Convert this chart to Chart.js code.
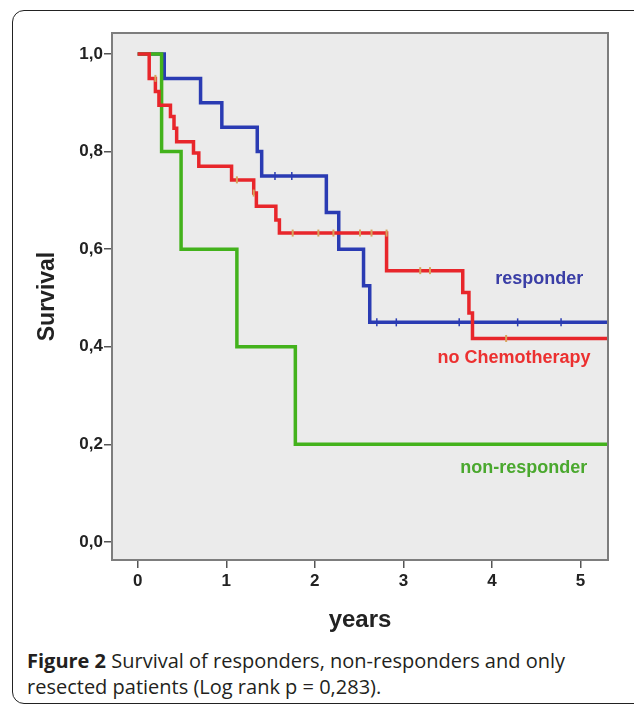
<!DOCTYPE html>
<html>
<head>
<meta charset="utf-8">
<script src="https://cdn.jsdelivr.net/npm/chart.js@4.4.0/dist/chart.umd.min.js"></script>
<style>
body { margin: 0; background: #fff; width: 634px; height: 706px; overflow: hidden; position: relative; }
#frame { position: absolute; left: 12px; top: 10px; width: 650px; height: 692px; border: 1.5px solid #222; border-radius: 12px; }
#wrap { position: absolute; left: 0; top: 0; width: 634px; height: 640px; }
#caption { position: absolute; left: 27px; top: 648px; font-family: "Open Sans", sans-serif; font-size: 20px; line-height: 26px; color: #231f20; }
</style>
</head>
<body>
<div id="frame"></div>
<div id="wrap"><canvas id="km"></canvas></div>
<div id="caption"><b>Figure 2</b> Survival of responders, non-responders and only<br>resected patients (Log rank p = 0,283).</div>
<script>
// tick labels
var xTicks = [0, 1, 2, 3, 4, 5];
var yTicks = [0, 0.2, 0.4, 0.6, 0.8, 1.0];

// responder
var respTime = [0, 0.30, 0.71, 0.95, 1.35, 1.40, 2.13, 2.27, 2.55, 2.62, 5.31];
var respSurv = [1, 0.95, 0.90, 0.85, 0.80, 0.75, 0.675, 0.60, 0.525, 0.45, 0.45];
var respCensTime = [1.55, 1.74, 2.70, 2.92, 3.63, 4.29, 4.78];
var respCensSurv = [0.75, 0.75, 0.45, 0.45, 0.45, 0.45, 0.45];

// non-responder
var nonRespTime = [0, 0.27, 0.49, 1.12, 1.78, 5.31];
var nonRespSurv = [1, 0.8, 0.6, 0.4, 0.2, 0.2];

// no chemotherapy
var noChemoTime = [0, 0.13, 0.20, 0.24, 0.37, 0.41, 0.44, 0.63, 0.69, 1.06, 1.31, 1.34, 1.56, 1.60, 2.81, 3.67, 3.74, 3.78, 5.31];
var noChemoSurv = [1, 0.95, 0.923, 0.895, 0.872, 0.848, 0.82, 0.797, 0.77, 0.742, 0.715, 0.688, 0.66, 0.633, 0.556, 0.511, 0.469, 0.417, 0.417];
var noChemoCensTime = [0.20, 1.12, 1.31, 1.75, 2.04, 2.21, 2.51, 2.64, 2.81, 3.19, 3.30, 4.16];
var noChemoCensSurv = [0.95, 0.742, 0.715, 0.633, 0.633, 0.633, 0.633, 0.633, 0.633, 0.556, 0.556, 0.417];

function pts(xs, ys) {
  return xs.map(function (x, i) { return { x: x, y: ys[i] }; });
}

var BLUE = '#2a3bb3', RED = '#e8262b', GREEN = '#43b21c';

var plotBox = {
  id: 'plotBox',
  beforeDraw: function (chart) {
    var a = chart.chartArea, ctx = chart.ctx;
    ctx.save();
    ctx.fillStyle = '#ebebeb';
    ctx.fillRect(a.left, a.top, a.right - a.left, a.bottom - a.top);
    ctx.restore();
  },
  afterDraw: function (chart) {
    var a = chart.chartArea, ctx = chart.ctx;
    ctx.save();
    ctx.strokeStyle = '#7d7d7d';
    ctx.lineWidth = 2;
    ctx.strokeRect(a.left, a.top, a.right - a.left, a.bottom - a.top);
    ctx.restore();
  }
};

var groupLabels = {
  id: 'groupLabels',
  afterDatasetsDraw: function (chart) {
    var ctx = chart.ctx, xs = chart.scales.x, ys = chart.scales.y;
    var items = [
      ['responder', 4.535, 0.539, '#3a3ea6'],
      ['no Chemotherapy', 4.25, 0.376, '#ec3030'],
      ['non-responder', 4.36, 0.151, '#4aa82e']
    ];
    ctx.save();
    ctx.font = 'bold 18px "Liberation Sans", Arial, sans-serif';
    ctx.textAlign = 'center';
    ctx.textBaseline = 'middle';
    items.forEach(function (it) {
      ctx.fillStyle = it[3];
      ctx.fillText(it[0], xs.getPixelForValue(it[1]), ys.getPixelForValue(it[2]));
    });
    ctx.restore();
  }
};

var tickFont = { family: '"Liberation Sans", Arial, sans-serif', size: 17, weight: 'bold' };

new Chart(document.getElementById('km'), {
  type: 'line',
  data: {
    datasets: [
      { data: pts(noChemoCensTime, noChemoCensSurv), showLine: false, pointStyle: 'line', rotation: 90,
        pointRadius: 3.5, borderColor: '#d6a45c', borderWidth: 2, order: 0 },
      { data: pts(respCensTime, respCensSurv), showLine: false, pointStyle: 'line', rotation: 90,
        pointRadius: 4, borderColor: BLUE, borderWidth: 1.5, order: 0 },
      { label: 'no Chemotherapy', data: pts(noChemoTime, noChemoSurv), stepped: true,
        borderColor: RED, borderWidth: 3.5, pointRadius: 0, order: 1 },
      { label: 'non-responder', data: pts(nonRespTime, nonRespSurv), stepped: true,
        borderColor: GREEN, borderWidth: 3.5, pointRadius: 0, order: 2 },
      { label: 'responder', data: pts(respTime, respSurv), stepped: true,
        borderColor: BLUE, borderWidth: 3.5, pointRadius: 0, order: 3 }
    ]
  },
  options: {
    responsive: true,
    maintainAspectRatio: false,
    animation: false,
    layout: { padding: { left: 0, top: 33, right: 26, bottom: 0 } },
    plugins: { legend: { display: false }, tooltip: { enabled: false } },
    scales: {
      x: {
        type: 'linear', min: -0.29, max: 5.31,
        afterBuildTicks: function (s) { s.ticks = xTicks.map(function (v) { return { value: v }; }); },
        afterFit: function (s) { s.height = 80; },
        grid: { drawOnChartArea: false, tickLength: 8, color: '#555', lineWidth: 1.5 },
        border: { display: false },
        ticks: { font: tickFont, color: '#222', padding: 3 },
        title: { display: true, text: 'years', color: '#222',
          font: { family: '"Liberation Sans", Arial, sans-serif', size: 24, weight: 'bold' },
          padding: { top: 0, bottom: 5 } }
      },
      y: {
        min: -0.037, max: 1.043,
        afterBuildTicks: function (s) { s.ticks = yTicks.map(function (v) { return { value: v }; }); },
        afterFit: function (s) { s.width = 112; },
        grid: { drawOnChartArea: false, tickLength: 8, color: '#555', lineWidth: 1.5 },
        border: { display: false },
        ticks: { font: tickFont, color: '#222', padding: 1,
          callback: function (v) { return v.toFixed(1).replace('.', ','); } },
        title: { display: true, text: 'Survival', color: '#222',
          font: { family: '"Liberation Sans", Arial, sans-serif', size: 23, weight: 'bold' },
          padding: { top: 34, bottom: 0 } }
      }
    }
  },
  plugins: [plotBox, groupLabels]
});
</script>
</body>
</html>
